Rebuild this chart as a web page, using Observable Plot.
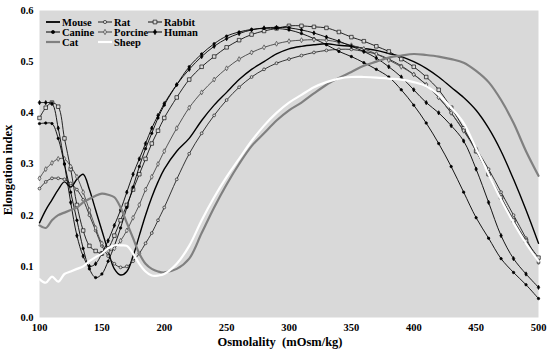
<!DOCTYPE html>
<html><head><meta charset="utf-8">
<script src="https://cdn.jsdelivr.net/npm/d3@7"></script>
<script src="https://cdn.jsdelivr.net/npm/@observablehq/plot@0.6"></script>
<style>
body{margin:0;background:#fff;}
#chart{width:550px;height:351px;}
</style></head>
<body><div id="chart"></div>
<script>
const osm = [100,105,110,115,120,125,130,135,140,145,150,155,160,165,170,175,180,185,190,195,200,210,220,230,240,250,260,270,280,290,300,310,320,330,340,350,360,370,380,390,400,410,420,430,440,450,460,470,480,490,500];
const mouse =   [0.185,0.21,0.23,0.25,0.265,0.255,0.27,0.28,0.25,0.21,0.17,0.13,0.095,0.083,0.09,0.12,0.16,0.2,0.235,0.265,0.29,0.325,0.35,0.385,0.415,0.44,0.465,0.485,0.5,0.515,0.525,0.53,0.533,0.535,0.532,0.53,0.526,0.522,0.516,0.51,0.5,0.487,0.47,0.45,0.43,0.405,0.37,0.325,0.27,0.21,0.145];
const rat =     [0.252,0.265,0.272,0.272,0.27,0.262,0.25,0.23,0.2,0.17,0.14,0.12,0.105,0.098,0.1,0.11,0.125,0.145,0.165,0.19,0.215,0.27,0.32,0.36,0.395,0.425,0.45,0.47,0.485,0.497,0.505,0.512,0.518,0.522,0.524,0.524,0.52,0.515,0.505,0.492,0.475,0.455,0.43,0.4,0.365,0.33,0.29,0.245,0.2,0.155,0.107];
const rabbit =  [0.39,0.41,0.42,0.412,0.35,0.29,0.22,0.17,0.14,0.13,0.125,0.135,0.16,0.19,0.22,0.25,0.28,0.31,0.34,0.365,0.39,0.43,0.465,0.49,0.51,0.528,0.542,0.553,0.56,0.565,0.57,0.57,0.568,0.566,0.558,0.548,0.54,0.53,0.52,0.505,0.49,0.47,0.445,0.41,0.37,0.325,0.28,0.235,0.19,0.15,0.117];
const canine =  [0.379,0.38,0.379,0.35,0.3,0.245,0.19,0.135,0.095,0.078,0.085,0.11,0.14,0.175,0.215,0.255,0.295,0.33,0.36,0.39,0.415,0.455,0.49,0.515,0.535,0.55,0.558,0.563,0.565,0.565,0.562,0.555,0.545,0.533,0.52,0.51,0.498,0.485,0.47,0.445,0.415,0.38,0.34,0.295,0.245,0.195,0.155,0.115,0.088,0.064,0.037];
const porcine = [0.272,0.29,0.302,0.31,0.31,0.295,0.275,0.245,0.21,0.175,0.145,0.13,0.135,0.15,0.17,0.195,0.22,0.25,0.275,0.3,0.325,0.37,0.41,0.44,0.465,0.487,0.505,0.518,0.528,0.535,0.54,0.542,0.543,0.542,0.538,0.532,0.525,0.515,0.503,0.49,0.475,0.455,0.43,0.4,0.365,0.325,0.28,0.235,0.19,0.15,0.11];
const human =   [0.42,0.42,0.418,0.37,0.3,0.225,0.16,0.12,0.1,0.105,0.125,0.15,0.18,0.21,0.245,0.28,0.31,0.34,0.37,0.395,0.418,0.455,0.485,0.51,0.53,0.545,0.555,0.562,0.566,0.567,0.566,0.562,0.556,0.548,0.54,0.53,0.52,0.507,0.49,0.47,0.445,0.42,0.4,0.375,0.345,0.29,0.225,0.16,0.115,0.085,0.059];
const cat =     [0.18,0.175,0.19,0.2,0.205,0.21,0.215,0.225,0.232,0.238,0.242,0.24,0.235,0.215,0.185,0.155,0.125,0.105,0.095,0.09,0.088,0.095,0.115,0.165,0.215,0.26,0.3,0.335,0.36,0.385,0.405,0.42,0.438,0.455,0.468,0.48,0.492,0.5,0.508,0.512,0.515,0.513,0.51,0.505,0.498,0.482,0.46,0.425,0.38,0.325,0.277];
const sheep =   [0.075,0.068,0.08,0.07,0.085,0.09,0.095,0.1,0.11,0.118,0.125,0.135,0.141,0.141,0.14,0.125,0.105,0.09,0.082,0.082,0.085,0.105,0.14,0.19,0.235,0.275,0.31,0.345,0.375,0.4,0.42,0.435,0.45,0.46,0.467,0.47,0.47,0.469,0.467,0.465,0.46,0.452,0.435,0.41,0.38,0.33,0.28,0.23,0.185,0.145,0.11];

const seriesNames = ["Mouse","Rat","Rabbit","Canine","Porcine","Human","Cat","Sheep"];
const seriesValues = [mouse,rat,rabbit,canine,porcine,human,cat,sheep];
const styles = {
  Mouse:{stroke:"#000",w:1.4,marker:null},
  Rat:{stroke:"#222",w:0.9,marker:"circle",mfill:"#d9d9d9",r:1.4},
  Rabbit:{stroke:"#111",w:0.9,marker:"square",mfill:"#d9d9d9",r:2},
  Canine:{stroke:"#000",w:0.9,marker:"circle",mfill:"#000",r:1.2},
  Porcine:{stroke:"#444",w:0.9,marker:"diamond",mfill:"#d9d9d9",r:1.5},
  Human:{stroke:"#000",w:0.9,marker:"diamond",mfill:"#000",r:1.3},
  Cat:{stroke:"#808080",w:2.2,marker:null},
  Sheep:{stroke:"#ffffff",w:2.2,marker:null}
};
const data = seriesNames.flatMap((s,i)=>osm.map((x,j)=>({series:s,x,y:seriesValues[i][j]})));
const xTicks = [100,150,200,250,300,350,400,450,500];
const yTicks = [0,0.1,0.2,0.3,0.4,0.5,0.6];

const font = "'Liberation Serif', 'Times New Roman', serif";
const marks = [Plot.frame({fill:"#d9d9d9",stroke:"none"})];
for (const s of seriesNames) {
  const st = styles[s];
  const d = data.filter(d=>d.series===s);
  marks.push(Plot.line(d,{x:"x",y:"y",stroke:st.stroke,strokeWidth:st.w,curve:"catmull-rom"}));
  if (st.marker) marks.push(Plot.dot(d,{x:"x",y:"y",symbol:st.marker,r:st.r,fill:st.mfill,stroke:st.stroke,strokeWidth:0.7}));
}
marks.push(Plot.axisX(xTicks,{tickSize:0,tickPadding:6,fontWeight:"bold",fontSize:10.5,label:null}));
marks.push(Plot.axisY(yTicks,{tickSize:0,tickPadding:6,fontWeight:"bold",fontSize:10.5,label:null,tickFormat:d3.format(".1f")}));

const chart = Plot.plot({
  width:550,height:351,
  marginLeft:39,marginRight:12,marginTop:10,marginBottom:34,
  x:{domain:[100,500]},
  y:{domain:[0,0.6]},
  style:{fontFamily:font,background:"#fff",color:"#000"},
  marks
});
document.getElementById("chart").appendChild(chart);

// axis titles and legend
const svg = d3.select(chart);
svg.append("text").attr("x",280).attr("y",346).attr("text-anchor","middle")
  .attr("font-family",font).attr("font-weight","bold").attr("font-size",12.5).text("Osmolality  (mOsm/kg)");
svg.append("text").attr("transform","translate(12,170) rotate(-90)").attr("text-anchor","middle")
  .attr("font-family",font).attr("font-weight","bold").attr("font-size",12.5).text("Elongation index");
const legendCols = [46,98,148];
const legendRows = [22,32,42];
seriesNames.forEach((s,i)=>{
  const cx = legendCols[i%3], cy = legendRows[Math.floor(i/3)];
  const st = styles[s];
  const g = svg.append("g");
  g.append("line").attr("x1",cx).attr("x2",cx+14).attr("y1",cy).attr("y2",cy)
    .attr("stroke",st.stroke).attr("stroke-width",st.marker?1:Math.max(st.w,1.8));
  if (st.marker) {
    const sym = d3.symbol().type(st.marker==="square"?d3.symbolSquare:st.marker==="diamond"?d3.symbolDiamond:d3.symbolCircle).size(st.marker==="square"?14:8);
    g.append("path").attr("d",sym()).attr("transform",`translate(${cx+7},${cy})`)
      .attr("fill",st.mfill).attr("stroke",st.stroke).attr("stroke-width",0.7);
  }
  g.append("text").attr("x",cx+16).attr("y",cy).attr("dy","0.35em").attr("text-anchor","start")
    .attr("font-family",font).attr("font-weight","bold").attr("font-size",10.5).text(s);
});
</script></body></html>
